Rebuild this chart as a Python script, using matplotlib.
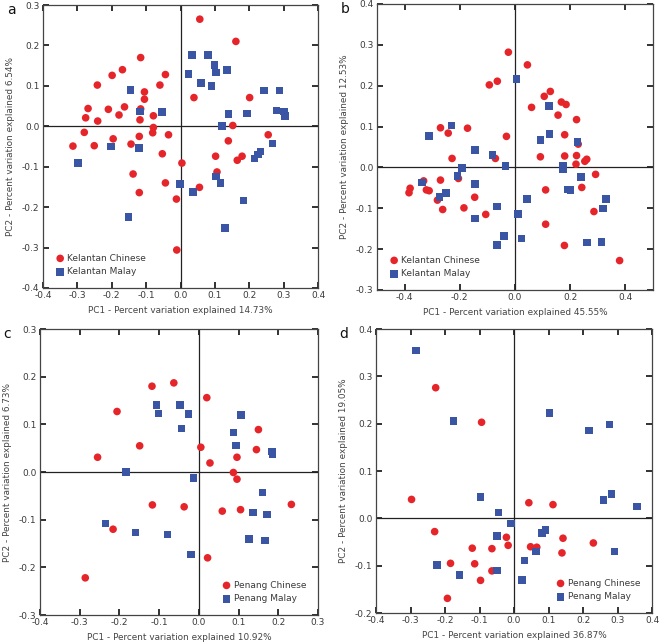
import matplotlib
matplotlib.use("Agg")
import matplotlib.pyplot as plt

RED = "#E5252A"
BLUE = "#3A55A4"

# ---------------- Panel a: Kelantan (PC1 14.73%, PC2 6.54%)
a_chinese_x = [0.056, 0.161, -0.116, -0.169, -0.199, -0.044, -0.242, -0.060, -0.105, -0.105,
               0.039, 0.201, -0.269, -0.210, -0.163, -0.116, -0.179, -0.276, -0.241, -0.118,
               -0.079, -0.079, -0.280, -0.081, -0.035, -0.196, -0.120, 0.152, 0.255, 0.139,
               -0.313, -0.251, -0.144, -0.053, 0.102, 0.179, 0.165, 0.004, -0.138, 0.106,
               -0.044, 0.055, -0.120, -0.012, -0.011]
a_chinese_y = [0.265, 0.210, 0.170, 0.140, 0.126, 0.128, 0.102, 0.102, 0.085, 0.067,
               0.071, 0.071, 0.044, 0.042, 0.048, 0.043, 0.028, 0.021, 0.013, 0.016,
               0.026, -0.003, -0.015, -0.016, -0.021, -0.031, -0.025, 0.002, -0.021, -0.036,
               -0.049, -0.048, -0.044, -0.068, -0.074, -0.074, -0.084, -0.091, -0.118, -0.113,
               -0.140, -0.151, -0.164, -0.180, -0.306]
a_malay_x = [0.034, 0.079, 0.099, 0.104, 0.136, 0.023, 0.059, 0.090, -0.146, 0.243,
             0.288, -0.118, -0.054, 0.140, 0.194, 0.279, 0.301, 0.303, 0.120, -0.203,
             -0.121, 0.267, 0.233, 0.225, 0.215, -0.298, 0.104, 0.116, -0.002, 0.036,
             0.183, -0.151, 0.130]
a_malay_y = [0.177, 0.177, 0.152, 0.133, 0.140, 0.130, 0.107, 0.100, 0.090, 0.089,
             0.089, 0.037, 0.035, 0.030, 0.032, 0.039, 0.037, 0.026, 0.000, -0.050,
             -0.054, -0.043, -0.062, -0.070, -0.080, -0.091, -0.124, -0.140, -0.143, -0.162,
             -0.184, -0.225, -0.251]

# ---------------- Panel b: Kelantan (PC1 45.55%, PC2 12.53%)
b_chinese_x = [-0.024, 0.045, -0.064, -0.093, 0.128, 0.106, 0.168, 0.185, 0.060, 0.156,
               0.223, -0.270, -0.242, -0.172, -0.031, 0.180, 0.229, -0.228, -0.071, 0.092,
               0.180, 0.223, 0.221, 0.260, 0.253, 0.292, 0.242, 0.111, -0.331, -0.380,
               -0.384, -0.321, -0.311, -0.270, -0.205, -0.146, -0.281, -0.262, -0.185, -0.106,
               0.286, 0.111, 0.179, 0.379]
b_chinese_y = [0.282, 0.251, 0.211, 0.202, 0.186, 0.174, 0.160, 0.154, 0.147, 0.128,
               0.117, 0.097, 0.084, 0.096, 0.076, 0.080, 0.057, 0.022, 0.022, 0.026,
               0.028, 0.029, 0.008, 0.020, 0.015, -0.017, -0.049, -0.055, -0.033, -0.051,
               -0.062, -0.055, -0.057, -0.031, -0.027, -0.073, -0.080, -0.103, -0.099, -0.115,
               -0.108, -0.139, -0.191, -0.228]
b_malay_x = [0.006, 0.124, -0.230, -0.311, 0.125, 0.093, 0.227, -0.145, -0.081, -0.192,
             -0.035, 0.175, 0.174, -0.209, 0.239, -0.145, -0.338, -0.250, -0.273, 0.193,
             0.201, 0.043, 0.329, 0.318, -0.065, 0.011, -0.146, -0.039, 0.024, -0.065,
             0.261, 0.314]
b_malay_y = [0.217, 0.151, 0.103, 0.077, 0.082, 0.067, 0.062, 0.043, 0.031, -0.001,
             0.004, 0.003, -0.004, -0.021, -0.023, -0.041, -0.037, -0.062, -0.072, -0.054,
             -0.055, -0.077, -0.077, -0.101, -0.096, -0.114, -0.125, -0.168, -0.174, -0.190,
             -0.184, -0.183]

# ---------------- Panel c: Penang (PC1 10.92%, PC2 6.73%)
c_chinese_x = [-0.118, -0.063, 0.020, -0.206, 0.150, -0.149, 0.005, 0.145, -0.255, 0.096,
               0.028, 0.087, 0.096, -0.117, -0.037, 0.059, 0.105, 0.233, -0.216, 0.022,
               -0.286]
c_chinese_y = [0.180, 0.187, 0.156, 0.127, 0.089, 0.055, 0.052, 0.047, 0.031, 0.031,
               0.019, -0.001, -0.015, -0.069, -0.073, -0.082, -0.079, -0.068, -0.120, -0.180,
               -0.222]
c_malay_x = [-0.107, -0.047, -0.102, -0.026, 0.106, -0.044, 0.087, 0.093, 0.184, 0.185,
             -0.184, -0.013, 0.160, 0.137, 0.172, -0.235, -0.160, -0.079, 0.127, 0.167,
             -0.019]
c_malay_y = [0.140, 0.140, 0.123, 0.122, 0.120, 0.091, 0.083, 0.056, 0.043, 0.037,
             0.000, -0.013, -0.043, -0.085, -0.089, -0.108, -0.127, -0.131, -0.140, -0.144,
             -0.173]

# ---------------- Panel d: Penang (PC1 36.87%, PC2 19.05%)
d_chinese_x = [-0.227, -0.094, -0.297, 0.043, 0.113, -0.230, -0.022, -0.017, -0.121, -0.064,
               0.048, 0.066, 0.142, 0.230, 0.139, -0.184, -0.114, -0.064, -0.097, -0.193]
d_chinese_y = [0.276, 0.203, 0.040, 0.033, 0.029, -0.028, -0.040, -0.057, -0.063, -0.064,
               -0.060, -0.061, -0.042, -0.052, -0.073, -0.095, -0.096, -0.111, -0.131, -0.169]
d_malay_x = [-0.284, -0.175, 0.103, 0.217, 0.277, -0.097, -0.045, -0.008, -0.049, 0.091,
             0.082, 0.063, 0.030, 0.024, -0.049, -0.158, -0.223, 0.259, 0.283, 0.356,
             0.291]
d_malay_y = [0.355, 0.206, 0.223, 0.186, 0.198, 0.045, 0.012, -0.011, -0.037, -0.025,
             -0.031, -0.070, -0.089, -0.130, -0.110, -0.120, -0.098, 0.039, 0.052, 0.025,
             -0.070]

panels = [
    dict(letter="a", rect=[0.0652, 0.5528, 0.4167, 0.4394],
         cx=a_chinese_x, cy=a_chinese_y, mx=a_malay_x, my=a_malay_y,
         xlim=(-0.4, 0.4), ylim=(-0.4, 0.3),
         xticks=[-0.4, -0.3, -0.2, -0.1, 0.0, 0.1, 0.2, 0.3, 0.4],
         yticks=[-0.4, -0.3, -0.2, -0.1, 0.0, 0.1, 0.2, 0.3],
         xlabel="PC1 - Percent variation explained 14.73%",
         ylabel="PC2 - Percent variation explained 6.54%",
         labels=("Kelantan Chinese", "Kelantan Malay"), loc="lower left"),
    dict(letter="b", rect=[0.5712, 0.5497, 0.4182, 0.4441],
         cx=b_chinese_x, cy=b_chinese_y, mx=b_malay_x, my=b_malay_y,
         xlim=(-0.5, 0.5), ylim=(-0.3, 0.4),
         xticks=[-0.4, -0.2, 0.0, 0.2, 0.4],
         yticks=[-0.3, -0.2, -0.1, 0.0, 0.1, 0.2, 0.3, 0.4],
         xlabel="PC1 - Percent variation explained 45.55%",
         ylabel="PC2 - Percent variation explained 12.53%",
         labels=("Kelantan Chinese", "Kelantan Malay"), loc="lower left"),
    dict(letter="c", rect=[0.0606, 0.0450, 0.4212, 0.4441],
         cx=c_chinese_x, cy=c_chinese_y, mx=c_malay_x, my=c_malay_y,
         xlim=(-0.4, 0.3), ylim=(-0.3, 0.3),
         xticks=[-0.4, -0.3, -0.2, -0.1, 0.0, 0.1, 0.2, 0.3],
         yticks=[-0.3, -0.2, -0.1, 0.0, 0.1, 0.2, 0.3],
         xlabel="PC1 - Percent variation explained 10.92%",
         ylabel="PC2 - Percent variation explained 6.73%",
         labels=("Penang Chinese", "Penang Malay"), loc="lower right"),
    dict(letter="d", rect=[0.5697, 0.0481, 0.4182, 0.4410],
         cx=d_chinese_x, cy=d_chinese_y, mx=d_malay_x, my=d_malay_y,
         xlim=(-0.4, 0.4), ylim=(-0.2, 0.4),
         xticks=[-0.4, -0.3, -0.2, -0.1, 0.0, 0.1, 0.2, 0.3, 0.4],
         yticks=[-0.2, -0.1, 0.0, 0.1, 0.2, 0.3, 0.4],
         xlabel="PC1 - Percent variation explained 36.87%",
         ylabel="PC2 - Percent variation explained 19.05%",
         labels=("Penang Chinese", "Penang Malay"), loc="lower right"),
]

fig = plt.figure(figsize=(6.6, 6.44), dpi=100)
TXT = "#3a3a3a"

for p in panels:
    ax = fig.add_axes(p["rect"])
    ax.axhline(0, color="#222222", lw=0.9, zorder=1)
    ax.axvline(0, color="#222222", lw=0.9, zorder=1)
    ax.scatter(p["cx"], p["cy"], s=30, marker="o", color=RED, edgecolors="none",
               label=p["labels"][0], zorder=3)
    ax.scatter(p["mx"], p["my"], s=30, marker="s", color=BLUE, edgecolors="none",
               label=p["labels"][1], zorder=3)
    ax.set_xlim(*p["xlim"])
    ax.set_ylim(*p["ylim"])
    ax.set_xticks(p["xticks"])
    ax.set_yticks(p["yticks"])
    ax.set_xticklabels(["%.1f" % v for v in p["xticks"]])
    ax.set_yticklabels(["%.1f" % v for v in p["yticks"]])
    ax.tick_params(direction="in", top=True, right=True, length=4, width=1.3,
                   labelsize=6.5, colors="#222222", labelcolor=TXT, pad=2.5)
    for s in ax.spines.values():
        s.set_color("#444444")
        s.set_linewidth(0.9)
    ax.set_xlabel(p["xlabel"], fontsize=6.4, color="#444444", labelpad=4)
    ax.set_ylabel(p["ylabel"], fontsize=6.4, color="#444444", labelpad=5)
    leg = ax.legend(loc=p["loc"], frameon=False, fontsize=6.5, handletextpad=0.2,
                    handlelength=1.2, labelspacing=0.5, borderaxespad=0.9,
                    markerscale=1.0)
    for t in leg.get_texts():
        t.set_color(TXT)
    bb = p["rect"]
    fig.text(bb[0] - 0.055, bb[1] + bb[3] - 0.008, p["letter"], fontsize=10,
             color="#111111", ha="left", va="center")

fig.savefig("out.png", dpi=100)
